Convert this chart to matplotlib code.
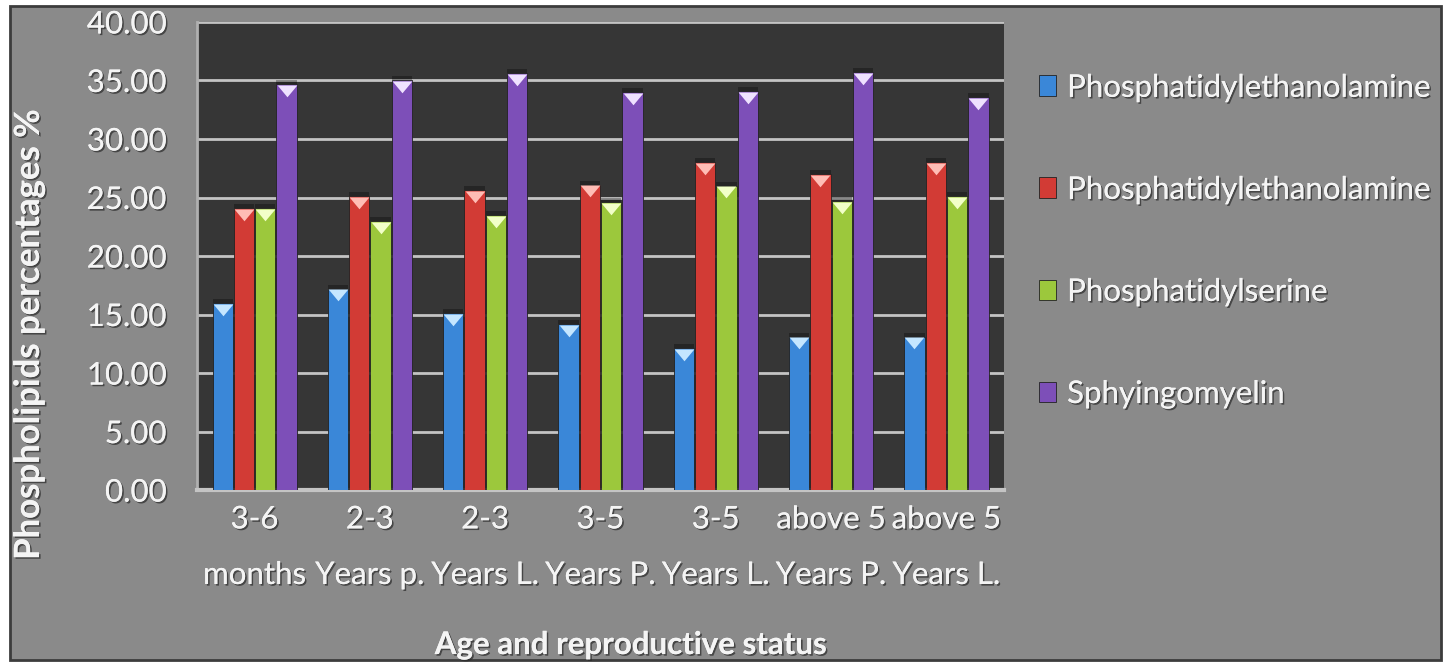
import numpy as np
import matplotlib
matplotlib.use("Agg")
import matplotlib.pyplot as plt
import matplotlib.patheffects as pe
from matplotlib.patches import Rectangle, Patch
from matplotlib import transforms

# phospholipid fractions (%) per age / reproductive group
grupos = ["3-6\nmonths", "2-3\nYears p.", "2-3\nYears L.", "3-5\nYears P.",
          "3-5\nYears L.", "above 5\nYears P.", "above 5\nYears L."]
etanolamina_1 = [16.0, 17.2, 15.1, 14.2, 12.1, 13.1, 13.1]
etanolamina_2 = [24.1, 25.1, 25.6, 26.1, 28.0, 27.0, 28.0]
serina = [24.1, 23.0, 23.5, 24.6, 26.0, 24.7, 25.1]
esfingomielina = [34.7, 35.0, 35.6, 34.0, 34.1, 35.7, 33.6]
nombres = ["Phosphatidylethanolamine", "Phosphatidylethanolamine",
           "Phosphatidylserine", "Sphyingomyelin"]

series = [etanolamina_1, etanolamina_2, serina, esfingomielina]
colores = ["#3a87d8", "#d23b35", "#9cc83c", "#7d4fb8"]
tapas = ["#c4e6ff", "#ffbdb5", "#f2ffc8", "#efe2ff"]

plt.rcParams["font.family"] = ["Lato", "DejaVu Sans"]
sombra = [pe.withSimplePatchShadow(offset=(1.2, -1.2), shadow_rgbFace="#2a2a2a", alpha=0.7),
          pe.Normal()]
blanco = "#f4f4f4"

fig = plt.figure(figsize=(14.47, 6.65), dpi=100)
fig.patch.set_facecolor("white")
fig.patches.append(Rectangle((0.0069, 0.0075), 0.989, 0.983, transform=fig.transFigure,
                             facecolor="#8a8a8a", edgecolor="#3c3c3c", linewidth=2, zorder=-5))

ax = fig.add_axes([0.1361, 0.263, 0.5578, 0.704])
ax.set_facecolor("#363636")

x = np.arange(len(grupos))
ancho = 0.175
paso = 0.185
# triangular cap on top of every bar
tapa = [(-1, 0), (1, 0), (0, -1.2)]
baja = transforms.offset_copy(ax.transData, fig=fig, x=0, y=-0.5, units="points")
for k, vals in enumerate(series):
    pos = x + (k - 1.5) * paso
    ax.bar(pos, vals, width=ancho, color=colores[k], edgecolor="#222222",
           linewidth=0.6, zorder=3)
    # soft dark rim just above the bar
    ax.bar(pos, 0.35, bottom=vals, width=ancho, color="black", alpha=0.3,
           linewidth=0, zorder=3)
    ax.plot(pos, vals, linestyle="none", marker=tapa, markersize=17,
            markerfacecolor=tapas[k], markeredgewidth=0, zorder=4, transform=baja)

ax.set_ylim(0, 40)
ax.set_xlim(-0.5, len(grupos) - 0.5)
ax.set_yticks(np.arange(0, 45, 5))
ax.set_yticklabels(["%.2f" % v for v in np.arange(0, 45, 5)])
ax.set_xticks(x)
ax.set_xticklabels(grupos, linespacing=2.2)
ax.yaxis.grid(True, color="#c4c4c4", linewidth=2, zorder=0)
ax.set_axisbelow(True)

for s in ["top", "right"]:
    ax.spines[s].set_visible(False)
ax.spines["left"].set_color("#b0b0b0")
ax.spines["left"].set_linewidth(2)
ax.spines["bottom"].set_color("#c4c4c4")
ax.spines["bottom"].set_linewidth(3)

ax.tick_params(axis="y", length=0, pad=22, labelsize=22.5, labelcolor=blanco)
ax.tick_params(axis="x", length=0, pad=11, labelsize=22.5, labelcolor=blanco)
for t in ax.get_xticklabels() + ax.get_yticklabels():
    t.set_path_effects(sombra)

fig.text(0.020, 0.497, "Phospholipids percentages %", rotation=90, ha="center", va="center",
         fontsize=25, fontweight="bold", color=blanco, path_effects=sombra)
fig.text(0.436, 0.030, "Age and reproductive status", ha="center", va="center",
         fontsize=22.5, fontweight="bold", color=blanco, path_effects=sombra)

manijas = [Patch(facecolor=c, edgecolor="#222222", linewidth=0.6) for c in colores]
ley = fig.legend(manijas, nombres, loc="upper left", bbox_to_anchor=(0.718, 0.889),
                 frameon=False, fontsize=22.5, labelspacing=2.37, handlelength=0.55,
                 handleheight=0.65, handletextpad=0.35, borderpad=0, borderaxespad=0)
for t in ley.get_texts():
    t.set_color(blanco)
    t.set_path_effects(sombra)

fig.savefig("out.png", dpi=100, facecolor=fig.get_facecolor())
